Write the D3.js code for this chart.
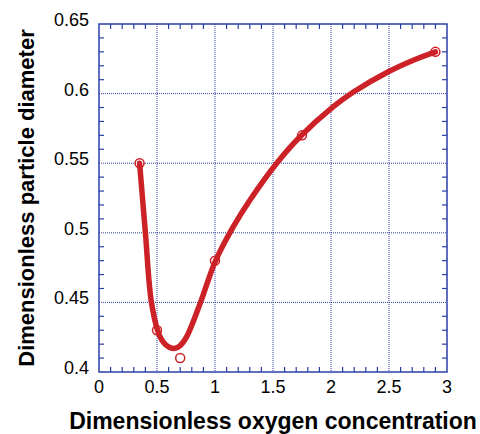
<!DOCTYPE html>
<html>
<head>
<meta charset="utf-8">
<script src="https://cdn.jsdelivr.net/npm/d3@7"></script>
<style>
  body { margin: 0; background: #fff; }
  text { font-family: "Liberation Sans", Arial, sans-serif; }
</style>
</head>
<body>
<div id="chart"></div>
<script>
// measured points (open circles)
const markerX = [0.35, 0.5, 0.7, 1.0, 1.75, 2.9];
const markerY = [0.55, 0.43, 0.41, 0.48, 0.57, 0.63];

// fitted curve
const curveX = [0.35, 0.40, 0.454, 0.526, 0.6, 0.655, 0.7, 0.756, 0.871, 1.0, 1.158, 1.302, 1.532, 1.733, 2.02, 2.19, 2.494, 2.71, 2.9];
const curveY = [0.55, 0.50, 0.449, 0.4254, 0.418, 0.417, 0.419, 0.4254, 0.449, 0.479, 0.5044, 0.5236, 0.55, 0.569, 0.5906, 0.601, 0.6157, 0.624, 0.63];

const xTicks = [0, 0.5, 1, 1.5, 2, 2.5, 3];
const yTicks = [0.4, 0.45, 0.5, 0.55, 0.6, 0.65];

const width = 480, height = 434;
const margin = { top: 24, right: 33, bottom: 62, left: 99 };
const axisColor = '#2b3fa8';
const red = '#cc2127';

const svg = d3.select('#chart').append('svg')
  .attr('width', width)
  .attr('height', height);

const x = d3.scaleLinear().domain([0, 3]).range([margin.left, width - margin.right]);
const y = d3.scaleLinear().domain([0.4, 0.65]).range([height - margin.bottom, margin.top]);

const x0 = x.range()[0], x1 = x.range()[1];
const y0 = y.range()[0], y1 = y.range()[1];

// grid (dotted)
const grid = svg.append('g')
  .attr('stroke', axisColor)
  .attr('stroke-width', 1)
  .attr('stroke-dasharray', '1,1');
grid.selectAll('line.gx')
  .data(xTicks.slice(1, -1))
  .join('line')
  .attr('class', 'gx')
  .attr('x1', d => x(d)).attr('x2', d => x(d))
  .attr('y1', y1).attr('y2', y0);
grid.selectAll('line.gy')
  .data(yTicks.slice(1, -1))
  .join('line')
  .attr('class', 'gy')
  .attr('y1', d => y(d)).attr('y2', d => y(d))
  .attr('x1', x0).attr('x2', x1);

// minor ticks on all four sides, pointing in
const minorX = d3.range(0, 31).map(i => i / 10);
const minorY = d3.range(0, 26).map(i => 0.4 + i / 100);
const tickG = svg.append('g').attr('stroke', axisColor).attr('stroke-width', 1.2);
const isMajor = (v, step) => Math.abs(v / step - Math.round(v / step)) < 1e-6;
minorX.filter(v => !isMajor(v, 0.5)).forEach(v => {
  tickG.append('line').attr('x1', x(v)).attr('x2', x(v)).attr('y1', y0).attr('y2', y0 - 5);
  tickG.append('line').attr('x1', x(v)).attr('x2', x(v)).attr('y1', y1).attr('y2', y1 + 5);
});
minorY.filter(v => !isMajor(v, 0.05)).forEach(v => {
  tickG.append('line').attr('y1', y(v)).attr('y2', y(v)).attr('x1', x0).attr('x2', x0 + 5);
  tickG.append('line').attr('y1', y(v)).attr('y2', y(v)).attr('x1', x1).attr('x2', x1 - 5);
});

// frame
svg.append('rect')
  .attr('x', x0).attr('y', y1)
  .attr('width', x1 - x0).attr('height', y0 - y1)
  .attr('fill', 'none')
  .attr('stroke', axisColor)
  .attr('stroke-width', 1.5);

// tick labels
svg.append('g')
  .attr('font-size', 18)
  .attr('text-anchor', 'middle')
  .selectAll('text')
  .data(xTicks)
  .join('text')
  .attr('x', d => x(d))
  .attr('y', y0 + 21)
  .text(d => d3.format('~g')(d));

svg.append('g')
  .attr('font-size', 18)
  .attr('text-anchor', 'end')
  .selectAll('text')
  .data(yTicks)
  .join('text')
  .attr('x', x0 - 10)
  .attr('y', d => y(d) + 2)
  .text(d => d3.format('~g')(d));

// axis titles
svg.append('text')
  .attr('x', 273)
  .attr('y', 429)
  .attr('text-anchor', 'middle')
  .attr('font-size', 23)
  .attr('font-weight', 'bold')
  .text('Dimensionless oxygen concentration');

svg.append('text')
  .attr('transform', 'translate(34,198) rotate(-90)')
  .attr('text-anchor', 'middle')
  .attr('font-size', 22)
  .attr('font-weight', 'bold')
  .text('Dimensionless particle diameter');

// curve
const curveData = curveX.map((v, i) => [v, curveY[i]]);
svg.append('path')
  .datum(curveData)
  .attr('fill', 'none')
  .attr('stroke', red)
  .attr('stroke-width', 5.5)
  .attr('stroke-linejoin', 'round')
  .attr('stroke-linecap', 'round')
  .attr('d', d3.line().x(d => x(d[0])).y(d => y(d[1])).curve(d3.curveCatmullRom.alpha(0.5)));

// markers
svg.append('g')
  .selectAll('circle')
  .data(markerX.map((v, i) => [v, markerY[i]]))
  .join('circle')
  .attr('cx', d => x(d[0]))
  .attr('cy', d => y(d[1]))
  .attr('r', 4.5)
  .attr('fill', 'none')
  .attr('stroke', red)
  .attr('stroke-width', 1.5);
</script>
</body>
</html>
